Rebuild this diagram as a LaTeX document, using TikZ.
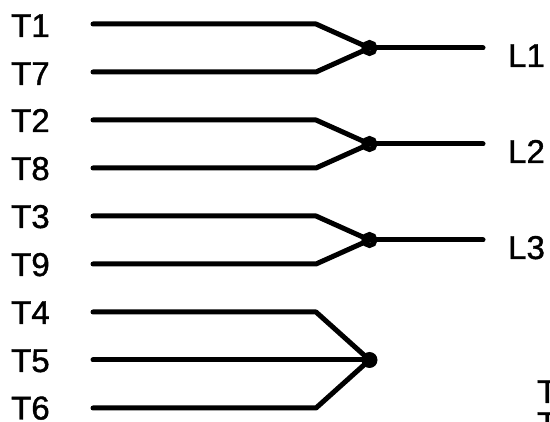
\documentclass[tikz,border=0pt]{standalone}
\usepackage{fontspec}
\setmainfont{Liberation Sans}[FakeBold=1.2]
\tikzset{
    wire/.style={line width=5pt, line cap=round, line join=round},
    terminal/.style={anchor=base west, inner sep=0pt, font=\fontsize{33}{33}\selectfont},
    ringjoint/.style={circle, draw, line width=5pt, minimum size=11pt, inner sep=0pt},
    solidjoint/.style={circle, fill, minimum size=16pt, inner sep=0pt}
}
\begin{document}
\begin{tikzpicture}[x=1pt, y=-1pt]

    \clip (0,0) rectangle (550,422);

    % Terminal labels
    \node[terminal] (T1) at (11,37) {T1};
    \node[terminal] (T7) at (11,85) {T7};
    \node[terminal] (T2) at (11,132) {T2};
    \node[terminal] (T8) at (11,180) {T8};
    \node[terminal] (T3) at (11,228) {T3};
    \node[terminal] (T9) at (11,276) {T9};
    \node[terminal] (T4) at (11,324) {T4};
    \node[terminal] (T5) at (11,372) {T5};
    \node[terminal] (T6) at (11,419.5) {T6};
    \node[terminal] (L1) at (508,67) {L1};
    \node[terminal] (L2) at (508,163) {L2};
    \node[terminal] (L3) at (508,259) {L3};

    % Cut-off labels at the edge
    \node[terminal] (edgeA) at (537,403) {T};
    \node[terminal] (edgeB) at (537,435) {T};

    % Joints
    \node[ringjoint] (J1) at (369.5,48) {};
    \node[ringjoint] (J2) at (369.5,144) {};
    \node[ringjoint] (J3) at (369.5,240) {};
    \node[solidjoint] (J4) at (369.5,360) {};

    % Group 1
    \coordinate (s1) at (93,24);
    \coordinate (b1) at (316,24);
    \coordinate (s7) at (93,72);
    \coordinate (b7) at (316,72);
    \coordinate (e1) at (483,48);
    \draw[wire] (s1) -- (b1) -- (J1.center);
    \draw[wire] (s7) -- (b7) -- (J1.center);
    \draw[wire] (J1.center) -- (e1);

    % Group 2
    \coordinate (s2) at (93,120);
    \coordinate (b2) at (316,120);
    \coordinate (s8) at (93,168);
    \coordinate (b8) at (316,168);
    \coordinate (e2) at (483,144);
    \draw[wire] (s2) -- (b2) -- (J2.center);
    \draw[wire] (s8) -- (b8) -- (J2.center);
    \draw[wire] (J2.center) -- (e2);

    % Group 3
    \coordinate (s3) at (93,216);
    \coordinate (b3) at (316,216);
    \coordinate (s9) at (93,264);
    \coordinate (b9) at (316,264);
    \coordinate (e3) at (483,240);
    \draw[wire] (s3) -- (b3) -- (J3.center);
    \draw[wire] (s9) -- (b9) -- (J3.center);
    \draw[wire] (J3.center) -- (e3);

    % Star point
    \coordinate (s4) at (93,312);
    \coordinate (b4) at (316,312);
    \coordinate (s5) at (93,360);
    \coordinate (s6) at (93,408);
    \coordinate (b6) at (316,408);
    \draw[wire] (s4) -- (b4) -- (J4.center);
    \draw[wire] (s5) -- (J4.center);
    \draw[wire] (s6) -- (b6) -- (J4.center);

\end{tikzpicture}
\end{document}
